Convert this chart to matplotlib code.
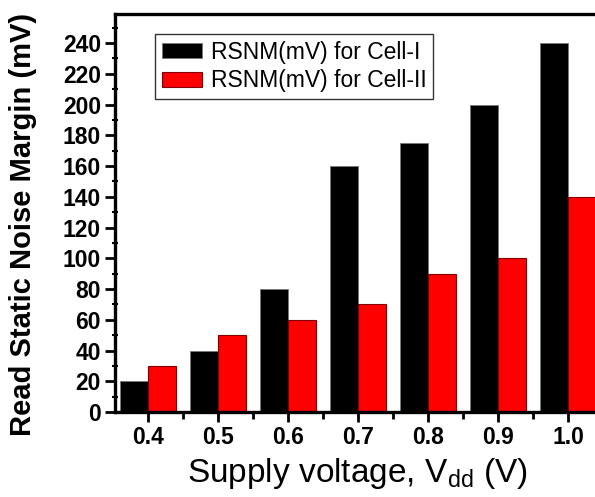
import numpy as np
import matplotlib
matplotlib.use('Agg')
import matplotlib.pyplot as plt

plt.rcParams['font.family'] = ['Liberation Sans', 'DejaVu Sans']

# data
voltages = ['0.4', '0.5', '0.6', '0.7', '0.8', '0.9', '1.0']
rsnm_cell1 = [20, 40, 80, 160, 175, 200, 240]
rsnm_cell2 = [30, 50, 60, 70, 90, 100, 140]
labels = ['RSNM(mV) for Cell-I', 'RSNM(mV) for Cell-II']

fig = plt.figure(figsize=(5.95, 4.97), dpi=100)
# axes run slightly past the right edge, as in the cropped original
ax = fig.add_axes([0.193, 0.171, 0.817, 0.801])

x = np.arange(len(voltages))
w = 0.4
ax.bar(x - w / 2, rsnm_cell1, w, color='black', edgecolor='#777777', linewidth=0.6, label=labels[0])
ax.bar(x + w / 2, rsnm_cell2, w, color='#ff0000', edgecolor='#800000', linewidth=0.8, label=labels[1])

ax.set_xlim(-0.47, len(voltages) - 0.53)
ax.set_ylim(0, 259)
ax.set_xticks(x)
ax.set_xticklabels(voltages)
ax.set_xticks(x[:-1] + 0.5, minor=True)
ax.set_yticks(np.arange(0, 241, 20))
ax.set_yticks(np.arange(10, 260, 10), minor=True)

for s in ax.spines.values():
    s.set_linewidth(2.4)

ax.tick_params(axis='both', which='major', direction='out', length=7, width=2,
               labelsize=16.5, pad=3)
ax.tick_params(axis='x', which='minor', direction='out', length=5, width=2)
ax.tick_params(axis='y', which='minor', direction='inout', length=4, width=1.5)
for lab in ax.get_yticklabels() + ax.get_xticklabels():
    lab.set_fontweight('bold')

ax.set_ylabel('Read Static Noise Margin (mV)', fontsize=21, fontweight='bold')
ax.yaxis.set_label_coords(-0.16, 0.47)
ax.set_xlabel('Supply voltage, V$_{\\mathregular{dd}}$ (V)', fontsize=24, labelpad=5)

leg = ax.legend(loc='upper left', bbox_to_anchor=(0.082, 0.95), borderaxespad=0,
                fontsize=16.5, frameon=True, fancybox=False, edgecolor='black',
                handlelength=1.75, handleheight=0.6, borderpad=0.3,
                labelspacing=0.25, handletextpad=0.4)
leg.get_frame().set_linewidth(1.0)

fig.savefig('out.png', dpi=100)
